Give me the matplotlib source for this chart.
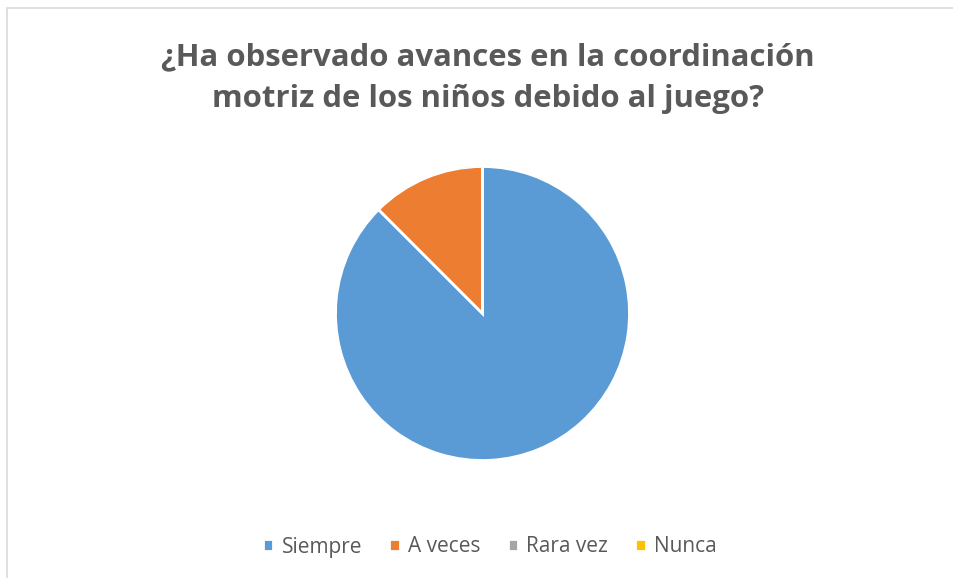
import matplotlib.pyplot as plt
from matplotlib.patches import Rectangle

# data
labels = ["Siempre", "A veces", "Rara vez", "Nunca"]
values = [87.5, 12.5, 0, 0]
colors = ["#5B9BD5", "#ED7D31", "#A5A5A5", "#FFC000"]
title = "¿Ha observado avances en la coordinación\nmotriz de los niños debido al juego?"

W, H = 954, 578
fig = plt.figure(figsize=(W / 100, H / 100), dpi=100)
fig.patch.set_facecolor("white")

# chart border (cut by the image edges)
fig.patches.append(Rectangle((7.5 / W, -0.1), 1.2, 1 - 8.5 / H + 0.1,
                             transform=fig.transFigure, fill=False,
                             edgecolor="#D9D9D9", linewidth=1.2))

cx, cy, r = 482.5, 313.5, 147
ax = fig.add_axes([(cx - r) / W, (H - cy - r) / H, 2 * r / W, 2 * r / H])
wedges, _ = ax.pie(values, colors=colors, startangle=90, counterclock=False,
                   radius=1, wedgeprops=dict(edgecolor="white", linewidth=2))
ax.set_xlim(-1, 1)
ax.set_ylim(-1, 1)
ax.set_aspect("equal")
ax.axis("off")

fig.text(488 / W, 1 - 78 / H, title, ha="center", va="center",
         fontsize=22.4, fontweight="bold", color="#595959",
         family="Open Sans", linespacing=1.52)

fig.legend(wedges, labels, loc="center", bbox_to_anchor=(490 / W, 1 - 547 / H),
           ncol=4, frameon=False, handlelength=0.5, handleheight=0.5,
           handletextpad=0.4, columnspacing=1.3,
           labelcolor="#595959", prop=dict(family="Open Sans", size=15))

fig.savefig("out.png", dpi=100)
